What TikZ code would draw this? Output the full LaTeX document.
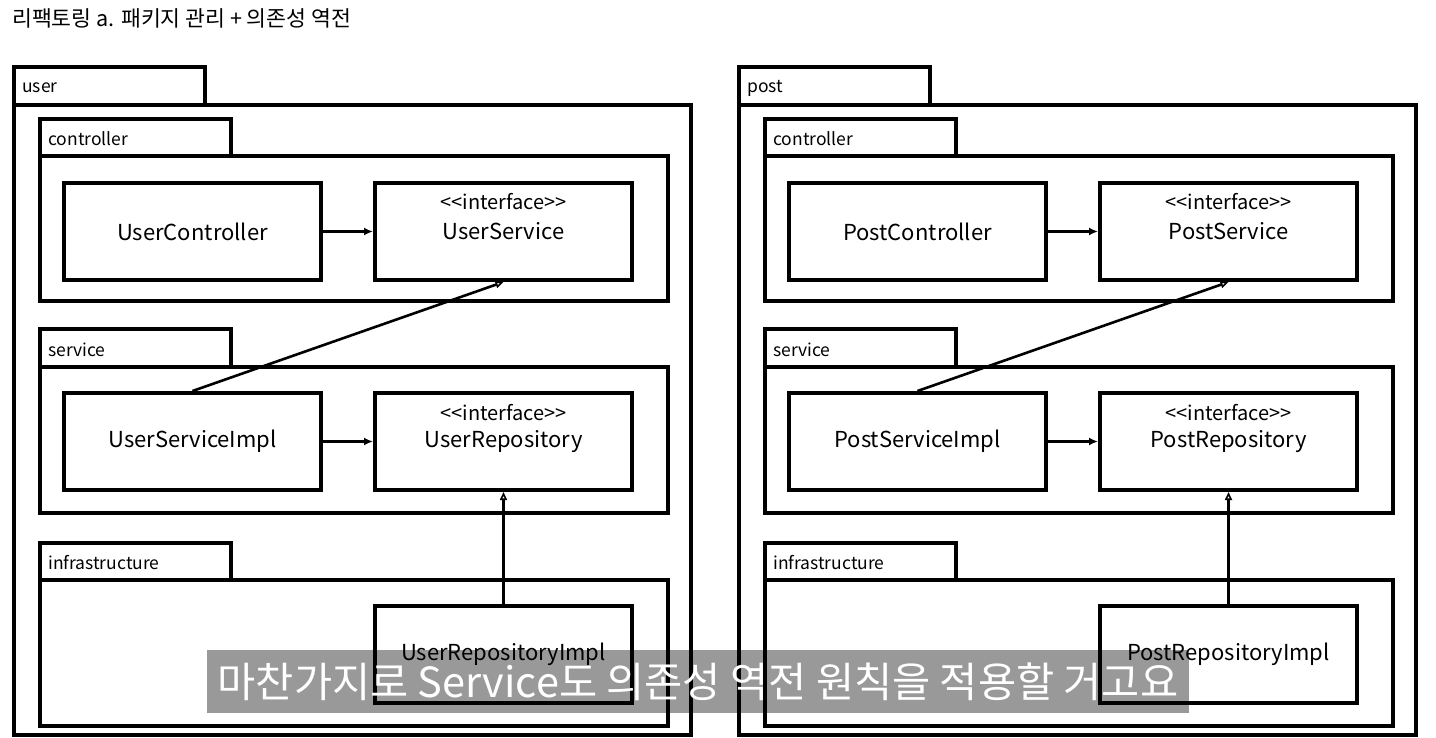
\documentclass[tikz,border=0pt]{standalone}
\usepackage{fontspec}
\setmainfont{Noto Sans CJK KR}
\usetikzlibrary{arrows.meta}

\begin{document}
\begin{tikzpicture}[x=1pt,y=-1pt,
  pkg/.style={draw=black,line width=4pt},
  pkglabel/.style={anchor=west,inner sep=0pt,font=\fontsize{17.5}{21}\selectfont},
  cls/.style={draw=black,line width=4pt,minimum width=257pt,minimum height=97pt,inner sep=0pt,font=\fontsize{22}{26}\selectfont},
  stereo/.style={inner sep=0pt,font=\fontsize{20}{23}\selectfont},
  uses/.style={line width=2.6pt,-{Latex[length=9pt,width=8pt]}},
  impl/.style={line width=2.6pt,-{Triangle[open,length=8pt,width=7pt,line width=1.6pt]}}]
\fill [white] (0,0) rectangle (1436,738);
\useasboundingbox (0,0) rectangle (1436,738);
\node [anchor=west,inner sep=0pt,font=\fontsize{21.6}{25}\selectfont] (title) at (12,18) {리팩토링 a. 패키지 관리 + 의존성 역전};
% user package
\draw [pkg] (14,67) rectangle (205,105);
\draw [pkg] (14,105) rectangle (691,735);
\node [pkglabel] (userlabel) at (22,88) {user};
\draw [pkg] (40,119) rectangle (231,156);
\draw [pkg] (40,156) rectangle (668,301);
\node [pkglabel] (usercontrollerlabel) at (48,139) {controller};
\draw [pkg] (40,329) rectangle (231,367);
\draw [pkg] (40,367) rectangle (668,513);
\node [pkglabel] (userservicelabel) at (48,350) {service};
\draw [pkg] (40,543) rectangle (231,580);
\draw [pkg] (40,580) rectangle (668,726);
\node [pkglabel] (userinfralabel) at (48,563) {infrastructure};
\node [cls] (uc) at (192.5,231.5) {UserController};
\node [cls] (us) at (503.5,231.5) {UserService};
\node [stereo] (usstereo) at (503.5,202) {<\kern0pt<interface>\kern0pt>};
\node [cls] (usi) at (192.5,441.5) {UserServiceImpl};
\node [cls] (ur) at (503.5,441.5) {UserRepository};
\node [stereo] (urstereo) at (503.5,413) {<\kern0pt<interface>\kern0pt>};
\node [cls] (uri) at (503.5,654.5) {UserRepositoryImpl};
\draw [uses] (uc.east) -- (us.west);
\draw [impl] (usi.north) -- (us.south);
\draw [uses] (usi.east) -- (ur.west);
\draw [impl] (uri.north) -- (ur.south);
% post package
\draw [pkg] (739,67) rectangle (930,105);
\draw [pkg] (739,105) rectangle (1416,735);
\node [pkglabel] (postlabel) at (747,88) {post};
\draw [pkg] (765,119) rectangle (956,156);
\draw [pkg] (765,156) rectangle (1393,301);
\node [pkglabel] (postcontrollerlabel) at (773,139) {controller};
\draw [pkg] (765,329) rectangle (956,367);
\draw [pkg] (765,367) rectangle (1393,513);
\node [pkglabel] (postservicelabel) at (773,350) {service};
\draw [pkg] (765,543) rectangle (956,580);
\draw [pkg] (765,580) rectangle (1393,726);
\node [pkglabel] (postinfralabel) at (773,563) {infrastructure};
\node [cls] (pc) at (917.5,231.5) {PostController};
\node [cls] (ps) at (1228.5,231.5) {PostService};
\node [stereo] (psstereo) at (1228.5,202) {<\kern0pt<interface>\kern0pt>};
\node [cls] (psi) at (917.5,441.5) {PostServiceImpl};
\node [cls] (pr) at (1228.5,441.5) {PostRepository};
\node [stereo] (prstereo) at (1228.5,413) {<\kern0pt<interface>\kern0pt>};
\node [cls] (pri) at (1228.5,654.5) {PostRepositoryImpl};
\draw [uses] (pc.east) -- (ps.west);
\draw [impl] (psi.north) -- (ps.south);
\draw [uses] (psi.east) -- (pr.west);
\draw [impl] (pri.north) -- (pr.south);
% subtitle
\node [fill=black,fill opacity=0.4,text opacity=1,text=white,inner sep=0pt,
  minimum width=982pt,minimum height=63pt,font=\fontsize{41.5}{46}\selectfont]
  (caption) at (698,681.5) {마찬가지로 Service도 의존성 역전 원칙을 적용할 거고요};
\end{tikzpicture}
\end{document}
